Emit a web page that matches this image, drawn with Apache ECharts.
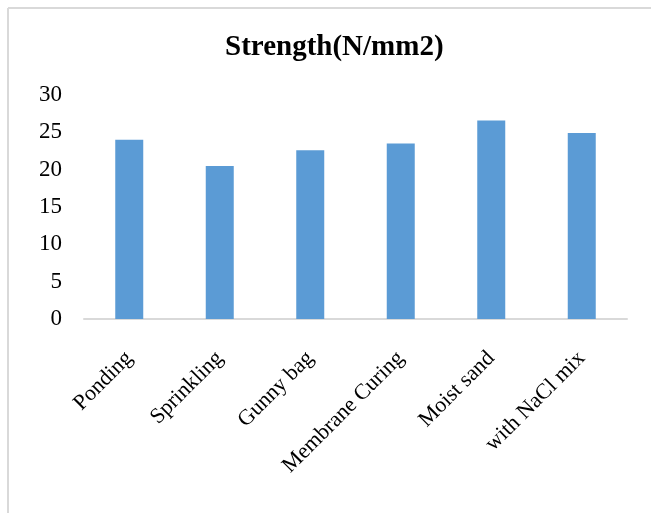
<!DOCTYPE html>
<html>
<head>
<meta charset="utf-8">
<script src="https://cdn.jsdelivr.net/npm/echarts@6/dist/echarts.min.js"></script>
<style>
  html, body { margin: 0; padding: 0; background: #fff; }
  #main { width: 651px; height: 513px; }
</style>
</head>
<body>
<div id="main"></div>
<script>
// 数据
var categories = ['Ponding', 'Sprinkling', 'Gunny bag', 'Membrane Curing', 'Moist sand', 'with NaCl mix'];
var strength = [24.0, 20.5, 22.6, 23.5, 26.6, 24.9];
var yMin = 0, yMax = 30, yStep = 5;

var serif = "'Liberation Serif', 'Times New Roman', serif";

var myChart = echarts.init(document.getElementById('main'));
var option = {
    backgroundColor: '#fff',
    animation: false,
    title: {
        text: 'Strength(N/mm2)',
        left: 220,
        top: 28,
        textStyle: {
            fontFamily: serif,
            fontWeight: 'bold',
            fontSize: 29,
            color: '#000'
        }
    },
    // 边框
    graphic: [
        { type: 'line', shape: { x1: 8, y1: 8, x2: 8, y2: 513 }, style: { stroke: '#d9d9d9', lineWidth: 2 } },
        { type: 'line', shape: { x1: 8, y1: 8, x2: 651, y2: 8 }, style: { stroke: '#d9d9d9', lineWidth: 2 } }
    ],
    grid: {
        left: 84,
        right: 24,
        top: 95,
        bottom: 194
    },
    xAxis: {
        type: 'category',
        data: categories,
        axisLine: { lineStyle: { color: '#d9d9d9', width: 2 } },
        axisTick: { show: false },
        axisLabel: {
            rotate: 45,
            interval: 0,
            margin: 36,
            fontFamily: serif,
            fontSize: 22,
            color: '#000'
        }
    },
    yAxis: {
        type: 'value',
        min: yMin,
        max: yMax,
        interval: yStep,
        axisLine: { show: false },
        axisTick: { show: false },
        splitLine: { show: false },
        axisLabel: {
            margin: 22,
            fontFamily: serif,
            fontSize: 23,
            color: '#000'
        }
    },
    series: [
        {
            name: 'Strength(N/mm2)',
            type: 'bar',
            barWidth: 28,
            itemStyle: { color: '#5b9bd5' },
            data: strength
        }
    ]
};
myChart.setOption(option);
</script>
</body>
</html>
